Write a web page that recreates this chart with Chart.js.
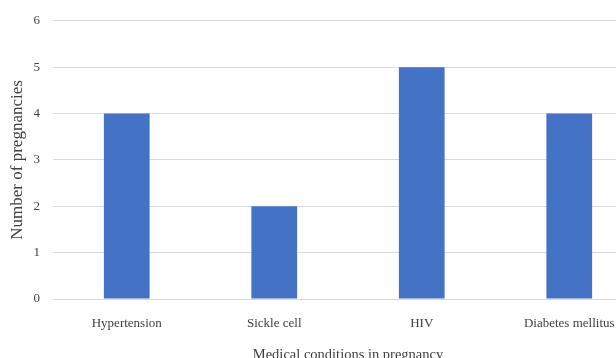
<!DOCTYPE html>
<html lang="en">
<head>
    <meta charset="UTF-8">
    <title>Medical conditions in pregnancy</title>
    <script src="https://cdn.jsdelivr.net/npm/chart.js"></script>
    <style>
        body {
            margin: 0;
            background-color: #fff;
            overflow: hidden;
        }
        .chart-container {
            width: 643px;
            height: 368px;
        }
    </style>
</head>
<body>
<div class="chart-container">
    <canvas id="conditionsChart"></canvas>
</div>

<script>
    // Data
    const conditions = ['Hypertension', 'Sickle cell', 'HIV', 'Diabetes mellitus'];
    const pregnancies = [4, 2, 5, 4];
    const yTicks = [0, 1, 2, 3, 4, 5, 6];

    const textColor = '#404040';
    const serif = "'Liberation Serif', 'Times New Roman', serif";

    const ctx = document.getElementById('conditionsChart').getContext('2d');
    new Chart(ctx, {
        type: 'bar',
        data: {
            labels: conditions,
            datasets: [{
                label: 'Number of pregnancies',
                data: pregnancies,
                backgroundColor: '#4472C4',
                borderWidth: 0,
                categoryPercentage: 1,
                barPercentage: 0.31
            }]
        },
        options: {
            responsive: true,
            maintainAspectRatio: false,
            animation: false,
            layout: {
                padding: { top: 18, right: 0, left: 0, bottom: 0 }
            },
            plugins: {
                legend: { display: false },
                tooltip: { enabled: false }
            },
            scales: {
                x: {
                    grid: { display: false },
                    border: { display: false },
                    ticks: {
                        color: textColor,
                        font: { family: serif, size: 13 },
                        padding: 9,
                        maxRotation: 0
                    },
                    title: {
                        display: true,
                        text: 'Medical conditions in pregnancy',
                        color: textColor,
                        font: { family: serif, size: 14.5 },
                        padding: { top: 13 }
                    },
                    afterFit: (axis) => { axis.height = 69; }
                },
                y: {
                    min: 0,
                    max: 6,
                    afterBuildTicks: (axis) => {
                        axis.ticks = yTicks.map(v => ({ value: v }));
                    },
                    grid: {
                        color: '#d9d9d9',
                        drawTicks: false
                    },
                    border: { display: false },
                    ticks: {
                        color: textColor,
                        font: { family: serif, size: 13 },
                        padding: 13
                    },
                    title: {
                        display: true,
                        text: 'Number of pregnancies',
                        color: textColor,
                        font: { family: serif, size: 17 },
                        padding: { top: 7, bottom: 0 }
                    },
                    afterFit: (axis) => { axis.width = 53; }
                }
            }
        }
    });
</script>
</body>
</html>
